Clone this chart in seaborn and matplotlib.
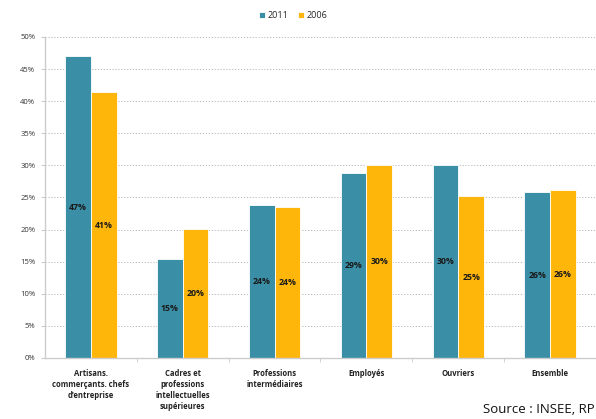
import matplotlib
matplotlib.use("Agg")
import matplotlib.pyplot as plt
import seaborn as sns
import pandas as pd
from matplotlib.ticker import PercentFormatter, FixedLocator

# Données (part en %)
categories = [
    "Artisans.\ncommerçants. chefs\nd'entreprise",
    "Cadres et\nprofessions\nintellectuelles\nsupérieures",
    "Professions\nintermédiaires",
    "Employés",
    "Ouvriers",
    "Ensemble",
]
years = ["2011", "2006"]
values_2011 = [47.0, 15.4, 23.8, 28.8, 30.1, 25.8]
values_2006 = [41.4, 20.1, 23.5, 30.1, 25.2, 26.1]
colors = {"2011": "#3a8fa6", "2006": "#ffb60a"}

df = pd.DataFrame({
    "cat": categories * 2,
    "year": ["2011"] * 6 + ["2006"] * 6,
    "val": values_2011 + values_2006,
})

sns.set_style("white")
plt.rcParams["font.family"] = ["Open Sans", "DejaVu Sans"]

fig = plt.figure(figsize=(5.96, 4.19), dpi=100)
ax = fig.add_axes([0.0755, 0.1456, 0.9245, 0.7661])

sns.barplot(data=df, x="cat", y="val", hue="year", hue_order=years,
            palette=colors, saturation=1, width=0.56, edgecolor="white",
            linewidth=0.6, ax=ax, legend=True)

# étiquettes au centre des barres
for cont in ax.containers:
    for bar in cont:
        h = bar.get_height()
        ax.text(bar.get_x() + bar.get_width() / 2, h / 2, f"{h:.0f}%",
                ha="center", va="center", fontsize=6.3, fontweight="bold",
                color="#1a1a1a")

ax.set_ylim(0, 50)
ax.set_xlim(-0.5, 5.5)
ax.yaxis.set_major_formatter(PercentFormatter(decimals=0))
ax.set_yticks(range(0, 51, 5))
ax.yaxis.grid(True, linestyle=(0, (1.2, 1.8)), color="#b8b8b8", linewidth=0.7)
ax.set_axisbelow(True)
ax.set_xlabel("")
ax.set_ylabel("")

for s in ["top", "right"]:
    ax.spines[s].set_visible(False)
for s in ["left", "bottom"]:
    ax.spines[s].set_color("#cccccc")
    ax.spines[s].set_linewidth(1)

ax.tick_params(axis="y", labelsize=5.5, length=3, color="#cccccc",
               left=True, pad=4, labelcolor="#333333")
ax.tick_params(axis="x", which="major", length=0, labelsize=5.5, pad=8,
               labelcolor="#222222")
ax.xaxis.set_minor_locator(FixedLocator([i + 0.5 for i in range(6)]))
ax.tick_params(axis="x", which="minor", length=3, color="#cccccc", bottom=True)
for lab in ax.get_xticklabels():
    lab.set_fontweight("bold")
    lab.set_linespacing(1.3)

leg = ax.legend(loc="upper center", bbox_to_anchor=(0.45, 1.105), ncol=2,
                frameon=False, fontsize=6.5, handlelength=0.7, handleheight=0.7,
                handletextpad=0.3, columnspacing=1.0)

fig.text(0.997, 0.008, "Source : INSEE, RP", fontsize=9.5, ha="right",
         va="bottom", color="#111111")

fig.savefig("out.png", dpi=100)
